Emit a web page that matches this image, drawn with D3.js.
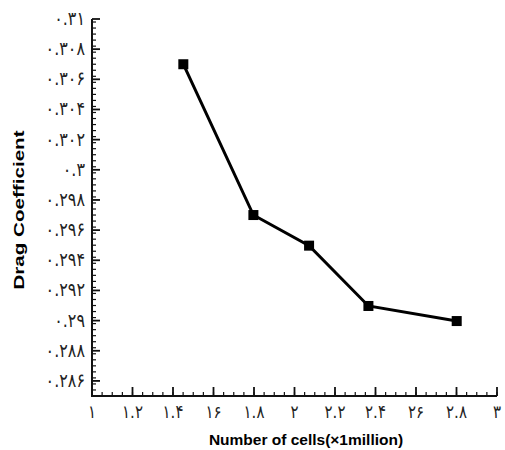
<!DOCTYPE html>
<html lang="en">
<head>
<meta charset="UTF-8">
<title>Drag Coefficient</title>
<script src="https://d3js.org/d3.v7.min.js"></script>
<style>
  body { margin: 0; background: #fff; }
  svg text { font-family: 'DejaVu Sans', sans-serif; }
  .title { font-family: 'Liberation Sans', Arial, sans-serif !important; font-weight: bold; font-size: 15.5px; }
</style>
</head>
<body>
<div id="chart"></div>
<script>
// --- Data ---
const cells = [1.451, 1.797, 2.072, 2.365, 2.801];
const drag = [0.3070, 0.2970, 0.29497, 0.29097, 0.28997];
const xTicks = [1, 1.2, 1.4, 1.6, 1.8, 2, 2.2, 2.4, 2.6, 2.8, 3];
const xTickLabels = ['۱', '۱.۲', '۱.۴', '۱۶', '۱.۸', '۲', '۲.۲', '۲.۴', '۲۶', '۲.۸', '۳'];
const yTicks = [0.286, 0.288, 0.29, 0.292, 0.294, 0.296, 0.298, 0.3, 0.302, 0.304, 0.306, 0.308, 0.31];
const yTickLabels = ['۰.۲۸۶', '۰.۲۸۸', '۰.۲۹', '۰.۲۹۲', '۰.۲۹۴', '۰.۲۹۶', '۰.۲۹۸', '۰.۳', '۰.۳۰۲', '۰.۳۰۴', '۰.۳۰۶', '۰.۳۰۸', '۰.۳۱'];

const width = 505, height = 450;
const svg = d3.select('#chart').append('svg')
  .attr('width', width).attr('height', height);

const x = d3.scaleLinear().domain([1, 3]).range([92, 497]);
const y = d3.scaleLinear().domain([0.285, 0.31]).range([396, 19]);

// minor ticks
const xMinor = d3.range(1, 3.0001, 0.05);
const yMinor = d3.range(0.285, 0.3101, 0.0004);

const g = svg.append('g');

g.selectAll('.xminor').data(xMinor).enter().append('line')
  .attr('x1', d => x(d)).attr('x2', d => x(d))
  .attr('y1', y(0.285)).attr('y2', y(0.285) - 4)
  .attr('stroke', '#111').attr('stroke-width', 1.2);
g.selectAll('.yminor').data(yMinor).enter().append('line')
  .attr('y1', d => y(d)).attr('y2', d => y(d))
  .attr('x1', x(1)).attr('x2', x(1) + 4)
  .attr('stroke', '#111').attr('stroke-width', 1.2);

// major ticks + labels
g.selectAll('.xmajor').data(xTicks).enter().append('line')
  .attr('x1', d => x(d)).attr('x2', d => x(d))
  .attr('y1', y(0.285)).attr('y2', y(0.285) - 9)
  .attr('stroke', '#111').attr('stroke-width', 1.8);
g.selectAll('.ymajor').data(yTicks).enter().append('line')
  .attr('y1', d => y(d)).attr('y2', d => y(d))
  .attr('x1', x(1)).attr('x2', x(1) + 8)
  .attr('stroke', '#111').attr('stroke-width', 1.8);

g.selectAll('.xlab').data(xTicks).enter().append('text')
  .attr('transform', d => `translate(${x(d)},418) scale(1,1.2)`)
  .attr('text-anchor', 'middle').attr('font-size', 15).attr('fill', '#222')
  .text((d, i) => xTickLabels[i]);
g.selectAll('.ylab').data(yTicks).enter().append('text')
  .attr('transform', d => `translate(85,${y(d) + 6}) scale(1,1.2)`)
  .attr('text-anchor', 'end').attr('font-size', 16).attr('fill', '#222')
  .attr('letter-spacing', 1)
  .text((d, i) => yTickLabels[i]);

// axes lines
g.append('line').attr('x1', x(1)).attr('x2', x(1)).attr('y1', y(0.31)).attr('y2', y(0.285) + 1)
  .attr('stroke', '#111').attr('stroke-width', 2);
g.append('line').attr('x1', x(1) - 1).attr('x2', x(3)).attr('y1', y(0.285)).attr('y2', y(0.285))
  .attr('stroke', '#111').attr('stroke-width', 2);

// titles
svg.append('text').attr('class', 'title')
  .attr('x', 306).attr('y', 445).attr('text-anchor', 'middle')
  .text('Number of cells(×1million)');
svg.append('text').attr('class', 'title')
  .attr('transform', 'translate(24,210) scale(1,1.33) rotate(-90)').attr('text-anchor', 'middle')
  .text('Drag Coefficient');

// line + markers
const pts = cells.map((c, i) => [c, drag[i]]);
g.append('path').datum(pts)
  .attr('d', d3.line().x(d => x(d[0])).y(d => y(d[1])))
  .attr('fill', 'none').attr('stroke', '#000').attr('stroke-width', 3);
g.selectAll('.mk').data(pts).enter().append('rect')
  .attr('x', d => x(d[0]) - 5).attr('y', d => y(d[1]) - 5)
  .attr('width', 10).attr('height', 10).attr('fill', '#000');
</script>
</body>
</html>
